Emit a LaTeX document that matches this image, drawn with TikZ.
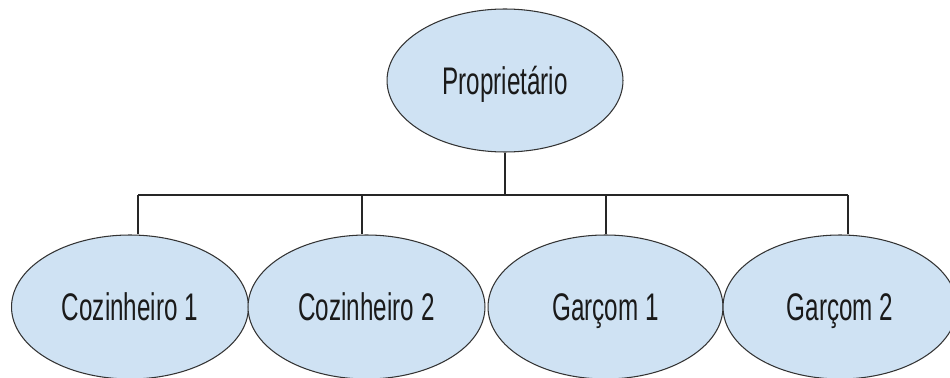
\documentclass[tikz,border=0pt]{standalone}
\usepackage{fontspec}
\setmainfont{Liberation Sans}
\usetikzlibrary{shapes.geometric}
\definecolor{ellfill}{HTML}{CFE2F3}
\definecolor{ellline}{HTML}{333333}
\definecolor{txtcol}{HTML}{1A1A1A}
\tikzset{
  role/.style={ellipse, draw=ellline, line width=0.6pt, fill=ellfill, inner sep=0pt,
    text=txtcol, font=\fontsize{21.9pt}{22pt}\selectfont, text height=15.6pt, text depth=0pt},
  conn/.style={draw=black!85, line width=0.75pt}
}
\newcommand{\squeezed}[1]{\scalebox{0.63}[1]{#1}}
\begin{document}
\begin{tikzpicture}[x=0.02cm, y=-0.02cm]
\useasboundingbox (0,0) rectangle (950,378);
\clip (0,0) rectangle (950,378);
\node[role, minimum width=4.72cm, minimum height=2.86cm] (top) at (505,80.5) {\squeezed{Proprietário}};
\node[role, minimum width=4.74cm, minimum height=2.88cm] (c1) at (130,307) {\squeezed{Cozinheiro 1}};
\node[role, minimum width=4.74cm, minimum height=2.88cm] (c2) at (366.5,307) {\squeezed{Cozinheiro 2}};
\node[role, minimum width=4.70cm, minimum height=2.88cm] (g1) at (605.5,307) {\squeezed{Garçom 1}};
\node[role, minimum width=4.68cm, minimum height=2.88cm] (g2) at (840,307) {\squeezed{Garçom 2}};
\coordinate (bus) at (505,195);
\coordinate (b1) at (138,195);
\coordinate (b2) at (362,195);
\coordinate (b3) at (606,195);
\coordinate (b4) at (848,195);
\draw[conn] (top.south) -- (bus);
\draw[conn] (b1) -- (b4);
\draw[conn] (b1) -- (b1 |- c1.north);
\draw[conn] (b2) -- (b2 |- c2.north);
\draw[conn] (b3) -- (b3 |- g1.north);
\draw[conn] (b4) -- (b4 |- g2.north);
\end{tikzpicture}
\end{document}
